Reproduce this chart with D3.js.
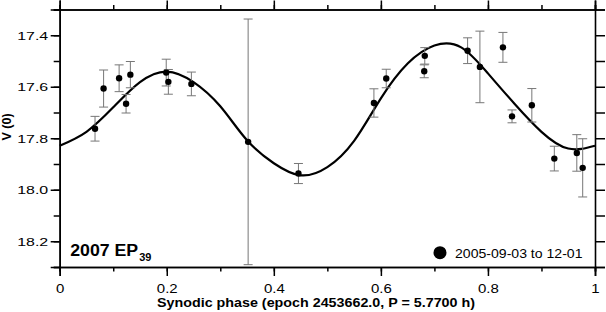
<!DOCTYPE html>
<html>
<head>
<meta charset="utf-8">
<title>2007 EP39 lightcurve</title>
<script src="https://d3js.org/d3.v7.min.js"></script>
<style>
  body { margin: 0; background: #fff; }
  text { font-family: "Liberation Sans", Arial, sans-serif; }
</style>
</head>
<body>
<div id="chart"></div>
<script>

// observations (phase, V mag, error)
var phase = [0.066, 0.082, 0.111, 0.124, 0.132, 0.199, 0.203, 0.246, 0.352, 0.446, 0.587,
             0.610, 0.681, 0.682, 0.762, 0.785, 0.828, 0.845, 0.882, 0.924, 0.966, 0.977];
var mag = [17.763, 17.607, 17.567, 17.666, 17.553, 17.545, 17.581, 17.589, 17.814, 17.937, 17.663,
           17.568, 17.540, 17.480, 17.460, 17.523, 17.447, 17.715, 17.672, 17.879, 17.857, 17.915];
var err = [0.048, 0.072, 0.052, 0.036, 0.051, 0.052, 0.048, 0.046, 0.477, 0.039, 0.055,
           0.036, 0.025, 0.032, 0.050, 0.139, 0.058, 0.025, 0.065, 0.048, 0.071, 0.113];

// fitted curve
var fitPhase = [0, 0.05, 0.10, 0.15, 0.20, 0.25, 0.30, 0.35, 0.40, 0.45, 0.50,
                0.55, 0.60, 0.65, 0.70, 0.75, 0.80, 0.85, 0.90, 0.95, 1.0];
var fitMag = [17.829, 17.775, 17.680, 17.582, 17.541, 17.582, 17.676, 17.808, 17.897, 17.944, 17.912,
              17.810, 17.645, 17.510, 17.440, 17.447, 17.548, 17.667, 17.775, 17.840, 17.829];

var xTicks = [0, 0.2, 0.4, 0.6, 0.8, 1];
var yTicks = [17.4, 17.6, 17.8, 18.0, 18.2];
var legendLabel = "2005-09-03 to 12-01";

var W = 606, H = 312;
var margin = {top: 9.5, right: 11, bottom: 45, left: 59.7};
var width = W - margin.left - margin.right,
    height = H - margin.top - margin.bottom;

var svg = d3.select("#chart").append("svg")
    .attr("width", W).attr("height", H)
  .append("g")
    .attr("transform", "translate(" + margin.left + "," + margin.top + ")");

var x = d3.scaleLinear().domain([0, 1]).range([0, width]);
var y = d3.scaleLinear().domain([17.3, 18.3]).range([0, height]);

var minorX = d3.range(0, 1.0001, 0.1).map(function(d) { return +d.toFixed(1); });
var minorY = d3.range(17.3, 18.3001, 0.1).map(function(d) { return +d.toFixed(1); });

function styleAxis(g) {
  g.selectAll("path").attr("stroke", "#000").attr("stroke-width", 1.6);
  g.selectAll("line").attr("stroke", "#000").attr("stroke-width", 1.5);
}

// minor ticks
svg.append("g").attr("transform", "translate(0," + height + ")")
  .call(d3.axisBottom(x).tickValues(minorX).tickSize(4.5).tickFormat("")).call(styleAxis);
svg.append("g")
  .call(d3.axisTop(x).tickValues(minorX).tickSize(4.5).tickFormat("")).call(styleAxis);
svg.append("g")
  .call(d3.axisLeft(y).tickValues(minorY).tickSize(6).tickFormat("")).call(styleAxis);
svg.append("g").attr("transform", "translate(" + width + ",0)")
  .call(d3.axisRight(y).tickValues(minorY).tickSize(10).tickFormat("")).call(styleAxis);

// major ticks
var xb = svg.append("g").attr("transform", "translate(0," + height + ")")
  .call(d3.axisBottom(x).tickValues(xTicks).tickSize(9).tickFormat(d3.format("")))
  .call(styleAxis);
svg.append("g")
  .call(d3.axisTop(x).tickValues(xTicks).tickSize(9).tickFormat("")).call(styleAxis);
var yl = svg.append("g")
  .call(d3.axisLeft(y).tickValues(yTicks).tickSize(9).tickFormat(d3.format(".1f")))
  .call(styleAxis);

xb.selectAll("text").attr("font-size", 12).attr("fill", "#000")
  .attr("font-family", "Liberation Sans, Arial, sans-serif")
  .attr("x", 0).attr("y", 0).attr("dy", 0)
  .attr("transform", "translate(0,26) scale(1.25,1)");
yl.selectAll("text").attr("font-size", 11).attr("fill", "#000")
  .attr("font-family", "Liberation Sans, Arial, sans-serif")
  .attr("x", 0).attr("dy", "0.36em")
  .attr("transform", "translate(-11.5,0) scale(1.45,1)");

// fitted curve
var line = d3.line()
  .x(function(d, i) { return x(fitPhase[i]); })
  .y(function(d) { return y(d); })
  .curve(d3.curveNatural);
svg.append("path").datum(fitMag)
  .attr("d", line)
  .attr("fill", "none").attr("stroke", "#000").attr("stroke-width", 2.2);

// error bars
var pts = phase.map(function(p, i) { return {p: p, v: mag[i], e: err[i]}; });
var eb = svg.append("g").selectAll("g").data(pts).enter().append("g")
  .attr("stroke", "#777").attr("stroke-width", 1);
eb.append("line")
  .attr("x1", function(d) { return x(d.p); }).attr("x2", function(d) { return x(d.p); })
  .attr("y1", function(d) { return y(d.v - d.e); }).attr("y2", function(d) { return y(d.v + d.e); });
eb.append("line")
  .attr("x1", function(d) { return x(d.p) - 4.5; }).attr("x2", function(d) { return x(d.p) + 4.5; })
  .attr("y1", function(d) { return y(d.v - d.e); }).attr("y2", function(d) { return y(d.v - d.e); });
eb.append("line")
  .attr("x1", function(d) { return x(d.p) - 4.5; }).attr("x2", function(d) { return x(d.p) + 4.5; })
  .attr("y1", function(d) { return y(d.v + d.e); }).attr("y2", function(d) { return y(d.v + d.e); });

// points
svg.append("g").selectAll("circle").data(pts).enter().append("circle")
  .attr("cx", function(d) { return x(d.p); })
  .attr("cy", function(d) { return y(d.v); })
  .attr("r", 3.2).attr("fill", "#000");

// object name
var objLabel = svg.append("text").attr("x", 10.5).attr("y", 246.5)
  .attr("font-size", 16).attr("font-weight", "bold").attr("fill", "#000");
objLabel.append("tspan").text("2007 EP")
  .attr("textLength", 68).attr("lengthAdjust", "spacingAndGlyphs");
objLabel.append("tspan").attr("dy", 5).attr("dx", 1).attr("font-size", 11).text("39");

// legend
svg.append("circle").attr("cx", 380.3).attr("cy", 243.2).attr("r", 6.5).attr("fill", "#000");
svg.append("text").attr("x", 395.3).attr("y", 248.8)
  .attr("font-size", 13).attr("fill", "#000").text(legendLabel)
  .attr("textLength", 127.5).attr("lengthAdjust", "spacingAndGlyphs");

// axis titles
svg.append("text").attr("x", 316 - margin.left).attr("y", 297.5)
  .attr("text-anchor", "middle").attr("font-size", 12.5).attr("font-weight", "bold")
  .attr("textLength", 318).attr("lengthAdjust", "spacingAndGlyphs")
  .text("Synodic phase (epoch 2453662.0, P = 5.7700 h)");
svg.append("text")
  .attr("transform", "translate(" + (10.5 - margin.left) + "," + (127 - margin.top) + ") rotate(-90)")
  .attr("text-anchor", "middle").attr("font-size", 12.5).attr("font-weight", "bold")
  .text("V (0)");

</script>
</body>
</html>
